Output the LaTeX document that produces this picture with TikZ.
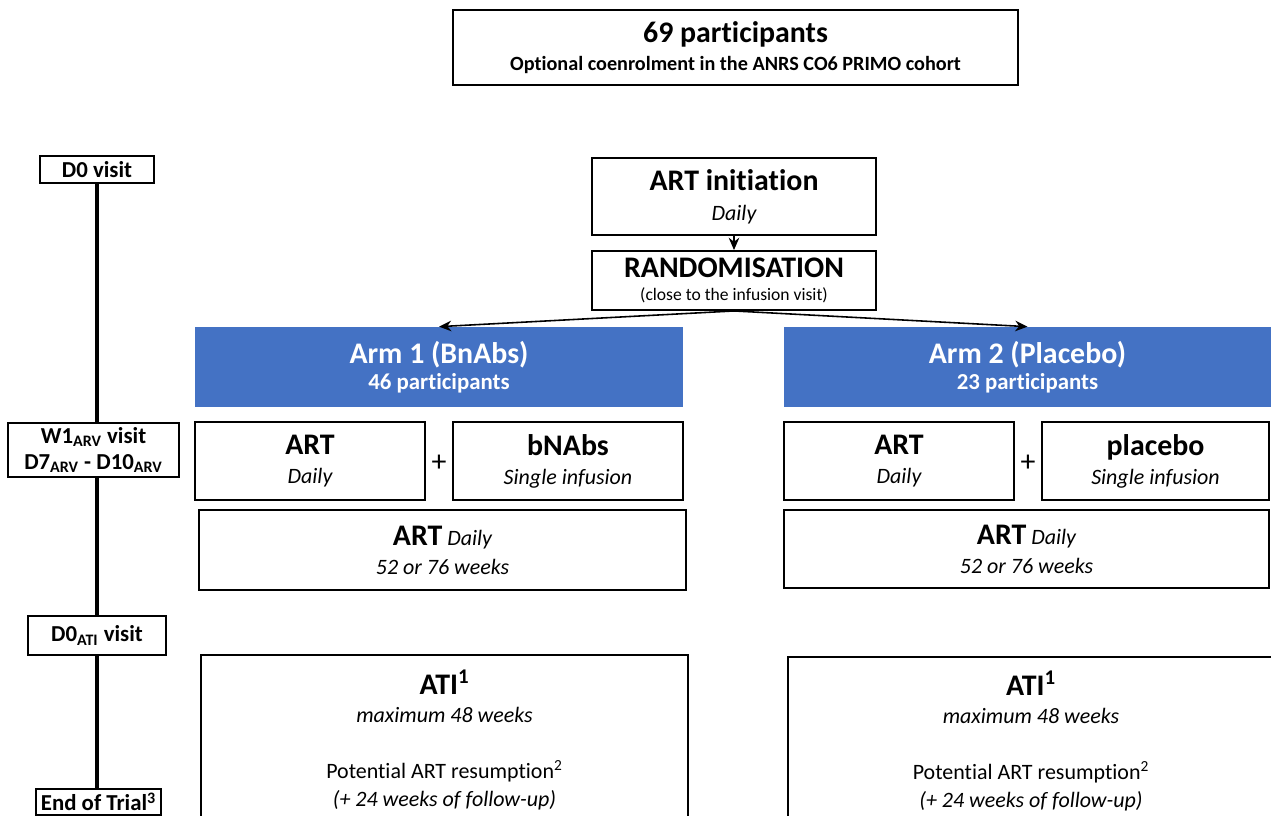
\documentclass[tikz,border=0pt]{standalone}
\usepackage{fontspec}
\setmainfont{Carlito}[Ligatures=NoCommon]
\usepackage{xcolor}
\usetikzlibrary{arrows.meta}
\definecolor{armblue}{HTML}{4472C4}
\newcommand{\boxhead}{\fontsize{17}{20}\selectfont\bfseries}
\newcommand{\boxsub}{\fontsize{13}{15}\selectfont\bfseries}

\begin{document}
\begin{tikzpicture}[x=0.02cm, y=-0.02cm, >={Stealth[length=7pt,width=6pt]},
    box/.style={draw, line width=1.1pt, fill=white, inner sep=0pt, align=center, font=\fontsize{12.5}{15}\selectfont},
    armbox/.style={fill=armblue, text=white, inner sep=0pt, align=center, font=\fontsize{12.5}{15}\selectfont},
    visit/.style={draw, line width=1.1pt, fill=white, inner sep=0pt, align=center, font=\fontsize{13}{14.7}\selectfont\bfseries}]

    \useasboundingbox (0,0) rectangle (1271,815);

    % Enrolment
    \node[box, minimum width=11.3cm, minimum height=1.5cm] (enrol) at (735.5,47.5)
        {{\boxhead 69 participants}\\[1pt]{\fontsize{11.5}{14}\selectfont\bfseries Optional coenrolment in the ANRS CO6 PRIMO cohort}};

    % Visits timeline
    \node[visit, minimum width=2.28cm, minimum height=0.54cm] (dzero) at (97,169.5) {D0 visit};
    \node[visit, minimum width=3.42cm, minimum height=1.08cm] (wone) at (93.5,450)
        {W1\textsubscript{ARV} visit\\D7\textsubscript{ARV} - D10\textsubscript{ARV}};
    \node[visit, minimum width=2.76cm, minimum height=0.78cm] (dzeroati) at (97,635.5) {D0\textsubscript{ATI} visit};
    \node[visit, minimum width=2.5cm, minimum height=0.52cm] (endtrial) at (98.5,802) {End of Trial\textsuperscript{3}};

    \draw[line width=2.8pt] (dzero.south) -- (dzero.south |- wone.north);
    \draw[line width=2.8pt] (dzero.south |- wone.south) -- (dzero.south |- dzeroati.north);
    \draw[line width=2.8pt] (dzeroati.south) -- (dzeroati.south |- endtrial.north);

    % Initiation and randomisation
    \node[box, minimum width=5.68cm, minimum height=1.54cm] (artinit) at (734,196.5)
        {{\boxhead ART initiation}\\[2pt]{\itshape Daily}};
    \node[box, minimum width=5.68cm, minimum height=1.18cm] (rand) at (734,280.5)
        {{\boxhead RANDOMISATION}\\[-2pt]{\fontsize{10}{12}\selectfont (close to the infusion visit)}};

    \draw[->, line width=0.9pt] (artinit) -- (rand);

    % Arm 1
    \node[armbox, minimum width=9.76cm, minimum height=1.6cm] (armone) at (439,367)
        {{\boxhead Arm 1 (BnAbs)}\\{\boxsub 46 participants}};
    \node[box, minimum width=4.6cm, minimum height=1.56cm] (artone) at (310,461)
        {{\boxhead ART}\\[1.4pt]{\itshape Daily}};
    \node (plusone) at (439,463) {\fontsize{17}{20}\selectfont +};
    \node[box, minimum width=4.6cm, minimum height=1.56cm] (bnabs) at (568,461)
        {{\boxhead bNAbs}\\[1.4pt]{\itshape Single infusion}};
    \node[box, minimum width=9.74cm, minimum height=1.6cm] (artdone) at (442.5,550)
        {{\boxhead ART} {\itshape Daily}\\[1.4pt]{\itshape 52 or 76 weeks}};
    \node[box, minimum width=9.74cm, minimum height=3.4cm] (atione) at (444.5,740)
        {{\boxhead ATI\textsuperscript{1}}\\[1pt]{\itshape maximum 48 weeks}\\[17pt]Potential ART resumption\textsuperscript{2}\\[1pt]{\itshape (+ 24 weeks of follow-up)}};

    % Arm 2
    \node[armbox, minimum width=9.74cm, minimum height=1.6cm] (armtwo) at (1027.5,367)
        {{\boxhead Arm 2 (Placebo)}\\{\boxsub 23 participants}};
    \node[box, minimum width=4.6cm, minimum height=1.56cm] (arttwo) at (899,461)
        {{\boxhead ART}\\[1.4pt]{\itshape Daily}};
    \node (plustwo) at (1028,463) {\fontsize{17}{20}\selectfont +};
    \node[box, minimum width=4.54cm, minimum height=1.56cm] (placebo) at (1155.5,461)
        {{\boxhead placebo}\\[1.4pt]{\itshape Single infusion}};
    \node[box, minimum width=9.7cm, minimum height=1.56cm] (artdtwo) at (1026.5,549)
        {{\boxhead ART} {\itshape Daily}\\[1.4pt]{\itshape 52 or 76 weeks}};
    \node[box, minimum width=9.72cm, minimum height=3.36cm] (atitwo) at (1031,741)
        {{\boxhead ATI\textsuperscript{1}}\\[1pt]{\itshape maximum 48 weeks}\\[17pt]Potential ART resumption\textsuperscript{2}\\[1pt]{\itshape (+ 24 weeks of follow-up)}};

    % Randomisation arrows
    \draw[->, line width=0.9pt] (rand.south) -- (armone.north);
    \draw[->, line width=0.9pt] (rand.south) -- (armtwo.north);

\end{tikzpicture}
\end{document}
